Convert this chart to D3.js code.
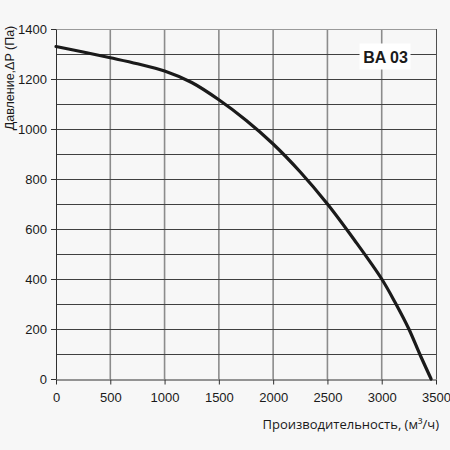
<!DOCTYPE html>
<html>
<head>
<meta charset="utf-8">
<script src="https://cdn.jsdelivr.net/npm/d3@7"></script>
<style>
  body { margin: 0; background: #f7f7f7; }
  svg { display: block; }
</style>
</head>
<body>
<div id="chart"></div>
<script>
// curve: flow (m3/h) -> pressure (Pa)
const flow = [0, 250, 500, 750, 1000, 1250, 1500, 1750, 2000, 2250, 2500, 2750, 3000, 3125, 3250, 3350, 3455];
const pressure = [1330, 1308, 1285, 1261, 1232, 1186, 1117, 1035, 940, 828, 700, 555, 400, 305, 200, 100, 0];
const xTicks = [0, 500, 1000, 1500, 2000, 2500, 3000, 3500];
const yTicks = [0, 200, 400, 600, 800, 1000, 1200, 1400];
const yGrid = d3.range(100, 1401, 100);
const modelName = 'BA 03';

const outerWidth = 450;
const outerHeight = 450;
const margin = {top: 29, right: 14, bottom: 71, left: 56};
const width = outerWidth - margin.left - margin.right;
const height = outerHeight - margin.top - margin.bottom;

const svg = d3.select('#chart').append('svg')
   .attr('width', outerWidth)
   .attr('height', outerHeight);

svg.append('rect')
   .attr('width', outerWidth)
   .attr('height', outerHeight)
   .attr('fill', '#f7f7f7');

const g = svg.append('g')
   .attr('transform', `translate(${margin.left}, ${margin.top})`);

const x = d3.scaleLinear().domain([0, 3500]).range([0, width]);
const y = d3.scaleLinear().domain([0, 1400]).range([height, 0]);

// vertical grid (lighter)
const vGrid = g.append('g').attr('class', 'vgrid');
xTicks.filter(d => d > 0 && d < 3500).forEach(d => {
   vGrid.append('line')
      .attr('x1', x(d)).attr('x2', x(d))
      .attr('y1', 0).attr('y2', height)
      .attr('stroke', '#8c8c8c')
      .attr('stroke-width', 1.6);
});

// horizontal grid (darker)
g.append('g').selectAll('line')
   .data(yGrid)
   .join('line')
   .attr('x1', 0).attr('x2', width)
   .attr('y1', d => Math.round(y(d)) + 0.5).attr('y2', d => Math.round(y(d)) + 0.5)
   .attr('stroke', d => d === 1400 ? '#9a9a9a' : '#404040')
   .attr('stroke-width', 1);

// right border
g.append('line')
   .attr('x1', width + 0.5).attr('x2', width + 0.5)
   .attr('y1', 0).attr('y2', height)
   .attr('stroke', '#505050');

const font = '"Liberation Sans", Arial, sans-serif';

const xAxis = d3.axisBottom(x).tickValues(xTicks).tickFormat(d3.format('d'))
   .tickSize(5).tickPadding(4).tickSizeOuter(0);
const yAxis = d3.axisLeft(y).tickValues(yTicks).tickFormat(d3.format('d'))
   .tickSize(5).tickPadding(4).tickSizeOuter(0);

const gx = g.append('g')
   .attr('transform', `translate(0, ${Math.round(height) + 0.5})`)
   .call(xAxis);
const gy = g.append('g')
   .call(yAxis);

[gx, gy].forEach(a => {
   a.select('.domain').attr('stroke', '#303030');
   a.selectAll('.tick line').attr('stroke', '#303030');
   a.selectAll('text')
      .attr('fill', '#1a1a1a')
      .style('font-family', font)
      .style('font-size', '13px');
});
gx.selectAll('text').attr('dy', '1.05em');

// curve
const line = d3.line()
   .x((d, i) => x(flow[i]))
   .y(d => y(d))
   .curve(d3.curveCatmullRom.alpha(0.5));

g.append('path')
   .datum(pressure)
   .attr('fill', 'none')
   .attr('stroke', '#1a1a1a')
   .attr('stroke-width', 3.2)
   .attr('stroke-linecap', 'round')
   .attr('d', line);

// model label
const lbl = g.append('g')
   .attr('transform', `translate(${x(3035)}, ${y(1300)})`);
lbl.append('rect')
   .attr('x', -26).attr('y', -10.5)
   .attr('width', 51).attr('height', 26)
   .attr('fill', '#ffffff');
lbl.append('text')
   .attr('text-anchor', 'middle')
   .attr('y', 8.5)
   .attr('fill', '#1a1a1a')
   .style('font-family', font)
   .style('font-weight', 'bold')
   .style('font-size', '16px')
   .text(modelName);

// axis titles
svg.append('text')
   .attr('transform', `translate(14, 78) rotate(-90)`)
   .attr('text-anchor', 'middle')
   .attr('fill', '#1a1a1a')
   .style('font-family', font)
   .style('font-size', '12.5px')
   .text('Давление,ΔP (Па)');

svg.append('text')
   .attr('x', 439)
   .attr('y', 429)
   .attr('text-anchor', 'end')
   .attr('fill', '#1a1a1a')
   .style('font-family', '"Open Sans", "Noto Sans", sans-serif')
   .style('font-size', '13px')
   .text('Производительность, (м³/ч)');
</script>
</body>
</html>
